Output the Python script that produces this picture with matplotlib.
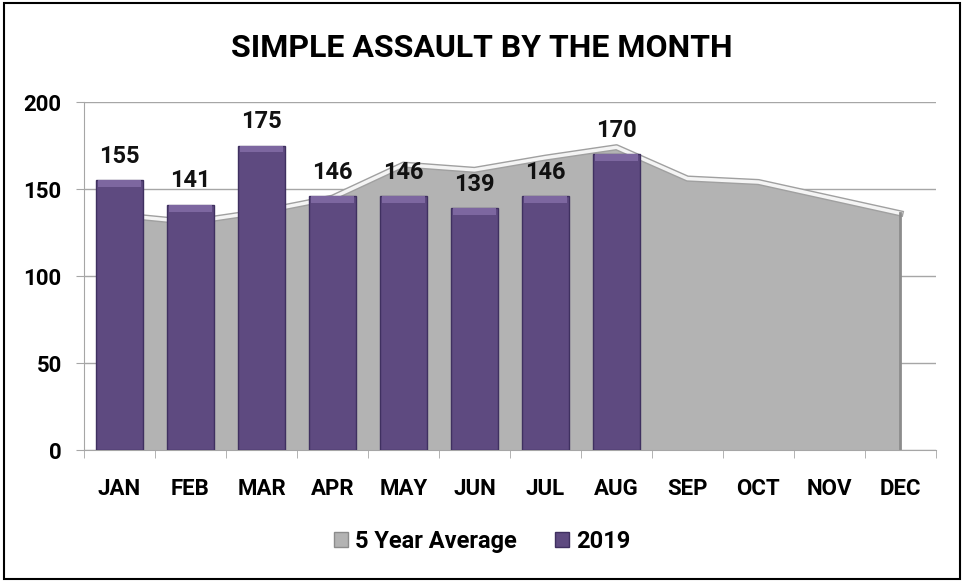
import matplotlib
matplotlib.use("Agg")
import matplotlib.pyplot as plt
import numpy as np
import matplotlib.patheffects as pe

plt.rcParams['font.family'] = ['Roboto', 'DejaVu Sans']

months = ['JAN', 'FEB', 'MAR', 'APR', 'MAY', 'JUN', 'JUL', 'AUG', 'SEP', 'OCT', 'NOV', 'DEC']
avg5 = [135, 131, 137, 145, 164, 161, 168, 174, 156, 154, 145, 136]
y2019 = [155, 141, 175, 146, 146, 139, 146, 170]

fig = plt.figure(figsize=(9.64, 5.82), dpi=100)
ax = fig.add_axes([0.0871, 0.2268, 0.8838, 0.5979])

x = np.arange(len(months))
# 5 year average area
ax.fill_between(x, avg5, 0, color='#b3b3b3', zorder=1, linewidth=0)
ax.plot(x, avg5, color='#f4f4f4', lw=2.5, zorder=2,
        path_effects=[pe.Stroke(linewidth=4.5, foreground='#a0a0a0'), pe.Normal()])
ax.plot([x[-1], x[-1]], [0, avg5[-1]], color='#8c8c8c', lw=2, zorder=2)

# 2019 bars
xb = x[:len(y2019)]
bars = ax.bar(xb, y2019, width=0.66, color='#5e4a80', edgecolor='#3f3060', linewidth=1, zorder=3)
ax.bar(xb, [4] * len(y2019), bottom=np.array(y2019) - 4, width=0.6, color='#7d67a0', linewidth=0, zorder=4)
for xi, v in zip(xb, y2019):
    ax.text(xi, v + 7, str(v), ha='center', va='bottom', fontsize=17, fontweight='bold', color='#111111')

ax.set_xlim(-0.5, 11.5)
ax.set_ylim(0, 200)
ax.set_yticks([0, 50, 100, 150, 200])
ax.yaxis.grid(True, color='#a6a6a6', lw=1)
ax.set_axisbelow(True)
ax.set_xticks(x)
ax.set_xticklabels(months)
ax.set_xticks(np.arange(-0.5, 12, 1), minor=True)
ax.tick_params(axis='x', which='major', length=0, pad=20, labelsize=16)
ax.tick_params(axis='x', which='minor', length=6, color='#a6a6a6', direction='out')
ax.tick_params(axis='y', length=6, color='#a6a6a6', labelsize=16, pad=10)
for lab in ax.get_xticklabels() + ax.get_yticklabels():
    lab.set_fontweight('bold')
for s in ['top', 'right']:
    ax.spines[s].set_visible(False)
ax.spines['left'].set_color('#a6a6a6')
ax.spines['bottom'].set_color('#a6a6a6')

fig.text(0.5, 0.917, 'SIMPLE ASSAULT BY THE MONTH', ha='center', va='center', fontsize=23, fontweight='bold')

# legend
h1 = plt.Rectangle((0, 0), 1, 1, color='#b3b3b3', ec='#8c8c8c')
h2 = plt.Rectangle((0, 0), 1, 1, color='#5e4a80', ec='#3f3060')
fig.legend([h1, h2], ['5 Year Average', '2019'], loc='center', bbox_to_anchor=(0.5, 0.07),
           ncol=2, frameon=False, prop={'weight': 'bold', 'size': 17},
           handlelength=0.6, handleheight=0.6, handletextpad=0.3, columnspacing=1.6)

fig.patches.append(plt.Rectangle((0.004, 0.006), 0.992, 0.988, transform=fig.transFigure,
                                 fill=False, ec='black', lw=1.5))

fig.savefig('out.png', dpi=100)
